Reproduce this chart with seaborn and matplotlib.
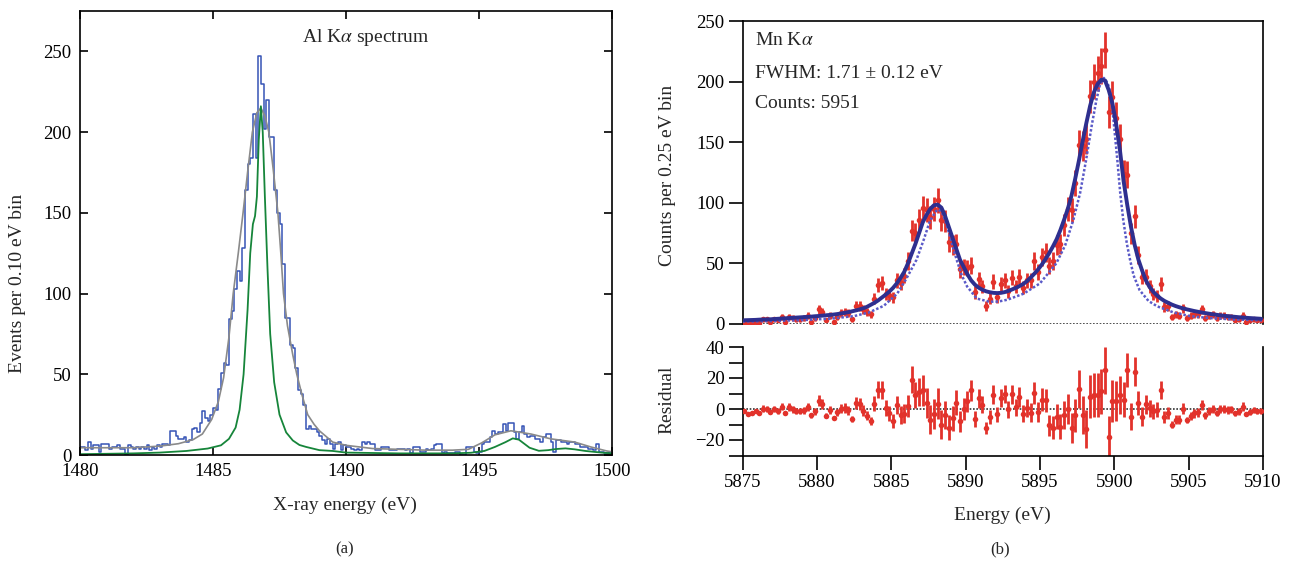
import numpy as np
import pandas as pd
import matplotlib
matplotlib.use("Agg")
import matplotlib.pyplot as plt
import seaborn as sns

# ---------------- (a) Al K-alpha spectrum, 0.10 eV bins ----------------
al_bin_start = 1480.0
al_bin_width = 0.10
al_counts = [
    5, 5, 3, 8, 4, 6, 6, 2, 7, 7, 7, 4, 5, 5, 6, 4, 4, 0, 6, 5,
    4, 5, 4, 5, 4, 6, 3, 5, 4, 6, 5, 7, 7, 6, 15, 15, 12, 10, 10, 11,
    8, 9, 16, 17, 14, 20, 27, 23, 21, 25, 29, 28, 41, 51, 57, 56, 84, 89, 103, 114,
    108, 128, 164, 180, 184, 211, 184, 247, 230, 202, 220, 197, 197, 164, 150, 143, 118, 85, 85, 68,
    66, 54, 40, 38, 31, 16, 18, 16, 16, 14, 12, 9, 7, 10, 7, 4, 7, 8, 3, 6,
    5, 5, 4, 3, 4, 3, 8, 7, 8, 7, 7, 3, 3, 5, 5, 5, 3, 3, 3, 4,
    4, 4, 3, 4, 1, 5, 5, 5, 2, 2, 4, 3, 4, 6, 7, 7, 1, 2, 1, 1,
    1, 2, 2, 0, 0, 5, 5, 5, 2, 1, 2, 7, 8, 8, 11, 15, 13, 14, 14, 19,
    15, 20, 20, 14, 10, 14, 18, 13, 11, 12, 12, 10, 10, 8, 11, 13, 13, 8, 2, 9,
    9, 8, 8, 7, 8, 8, 7, 7, 5, 5, 5, 4, 4, 3, 7, 2, 2, 1, 1, 2,
]

# total fit (grey)
al_fit_energy = [
    1480.0, 1482.0, 1483.0, 1483.7, 1484.25, 1484.6, 1484.95, 1485.2, 1485.4, 1485.6,
    1485.76, 1485.95, 1486.13, 1486.3, 1486.48, 1486.65, 1486.8, 1486.95, 1487.1, 1487.27,
    1487.44, 1487.55, 1487.65, 1487.8, 1488.0, 1488.15, 1488.35, 1488.56, 1488.8, 1489.0,
    1489.5, 1490.0, 1491.0, 1492.0, 1493.0, 1494.0, 1494.6, 1495.1, 1495.6, 1496.2,
    1496.95, 1497.7, 1498.6, 1499.2, 1499.8, 1500.0,
]
al_fit_counts = [
    4.5, 4.5, 5.5, 7.0, 9.5, 13.0, 22.0, 33.0, 48.0, 73.0,
    100.0, 125.0, 150.0, 175.0, 200.0, 212.0, 215.0, 210.0, 200.0, 176.0,
    150.0, 125.0, 100.0, 80.0, 62.0, 50.0, 37.0, 25.0, 19.0, 15.0,
    8.0, 6.0, 4.0, 3.5, 3.0, 3.0, 3.5, 7.5, 12.5, 15.0,
    13.0, 10.0, 8.0, 5.0, 2.5, 2.0,
]

# line-shape component (green)
al_line_energy = [
    1480.0, 1482.0, 1483.0, 1484.0, 1484.8, 1485.3, 1485.6, 1485.85, 1486.0, 1486.15,
    1486.3, 1486.4, 1486.5, 1486.58, 1486.65, 1486.72, 1486.8, 1486.87, 1486.95, 1487.05,
    1487.15, 1487.3, 1487.5, 1487.75, 1488.0, 1488.25, 1488.5, 1489.0, 1489.5, 1490.0,
    1492.0, 1494.0, 1494.7, 1495.2, 1495.6, 1496.0, 1496.27, 1496.5, 1496.9, 1497.25,
    1497.6, 1497.9, 1498.25, 1498.6, 1499.0, 1499.6, 1500.0,
]
al_line_counts = [
    0.5, 1.0, 1.5, 2.5, 4.0, 6.0, 10.0, 17.0, 28.0, 50.0,
    90.0, 125.0, 143.0, 148.0, 160.0, 195.0, 216.0, 200.0, 160.0, 115.0,
    75.0, 45.0, 25.0, 14.0, 9.0, 6.2, 5.0, 3.0, 2.5, 1.5,
    1.0, 1.0, 1.4, 2.5, 5.0, 8.0, 10.3, 9.5, 4.5, 2.6,
    3.0, 3.7, 4.1, 3.5, 2.5, 1.5, 1.0,
]

# ---------------- (b) Mn K-alpha spectrum, 0.25 eV bins ----------------
mn_bin_start = 5875.0
mn_bin_width = 0.25
mn_counts = [
    2, 0, 1, 2, 1, 4, 4, 2, 4, 3, 6, 2, 6, 5, 4, 4, 5, 7, 2, 5,
    12, 10, 3, 7, 2, 6, 9, 10, 9, 4, 15, 15, 12, 10, 8, 21, 32, 34, 25, 24,
    22, 36, 34, 40, 52, 77, 75, 86, 96, 94, 88, 95, 102, 86, 85, 68, 65, 66, 45, 47,
    46, 48, 26, 37, 31, 15, 21, 35, 22, 33, 36, 27, 38, 31, 39, 30, 36, 36, 52, 43,
    55, 59, 48, 52, 65, 66, 82, 95, 94, 116, 148, 147, 153, 188, 200, 207, 213, 226, 175, 187,
    170, 153, 124, 123, 75, 89, 57, 39, 39, 31, 25, 23, 33, 14, 15, 6, 8, 7, 13, 5,
    7, 8, 8, 12, 5, 7, 8, 5, 7, 7, 6, 6, 3, 4, 7, 2, 3, 4, 3, 3,
]
# fitted model evaluated at each bin centre
mn_fit = [
    3.1, 3.2, 3.3, 3.4, 3.6, 3.7, 3.8, 3.9, 4.1, 4.3, 4.5, 4.7, 4.9, 5.1, 5.3, 5.5, 5.7, 5.9, 6.1, 6.4,
    6.6, 6.9, 7.2, 7.5, 7.8, 8.2, 8.7, 9.2, 9.8, 10.5, 11.2, 12.0, 13.0, 14.2, 15.8, 17.5, 19.5, 21.8, 24.2, 26.8,
    29.8, 33.5, 38.0, 43.0, 50.0, 58.0, 66.0, 75.0, 84.0, 90.0, 95.0, 98.0, 98.5, 96.0, 89.0, 80.0, 71.0, 62.0, 53.0, 47.0,
    41.0, 36.0, 32.5, 30.0, 28.3, 27.0, 26.2, 25.7, 25.5, 25.7, 26.3, 27.3, 28.5, 29.8, 31.3, 33.0, 35.3, 38.3, 41.5, 45.0,
    49.0, 53.5, 58.5, 64.0, 70.0, 77.5, 86.0, 95.0, 106.0, 120.0, 135.0, 151.0, 166.0, 180.0, 191.0, 198.0, 201.5, 201.0, 193.0, 182.0,
    165.0, 144.0, 118.0, 98.0, 80.0, 65.0, 53.0, 44.0, 36.0, 30.5, 26.5, 23.5, 21.0, 19.0, 17.5, 16.0, 14.8, 13.8, 12.9, 12.1,
    11.4, 10.7, 10.1, 9.5, 9.0, 8.5, 8.0, 7.6, 7.2, 6.8, 6.5, 6.2, 5.9, 5.6, 5.4, 5.1, 4.9, 4.7, 4.5, 4.3,
]
# intrinsic line shape (dotted)
mn_line_energy = [
    5875.0, 5877.0, 5879.0, 5881.0, 5882.5, 5883.5, 5884.5, 5885.4, 5886.0, 5886.7,
    5887.2, 5887.6, 5888.0, 5888.2, 5888.45, 5888.7, 5889.05, 5889.4, 5889.75, 5890.1,
    5890.75, 5891.6, 5892.2, 5892.8, 5893.9, 5895.0, 5896.1, 5896.7, 5897.25, 5897.7,
    5898.1, 5898.5, 5898.8, 5899.05, 5899.3, 5899.55, 5899.75, 5899.95, 5900.2, 5900.4,
    5900.6, 5900.85, 5901.06, 5901.3, 5901.7, 5902.3, 5902.9, 5904.0, 5905.1, 5906.5,
    5908.0, 5910.0,
]
mn_line_counts = [
    2.0, 2.5, 3.2, 4.5, 6.5, 9.5, 15.0, 25.0, 37.0, 53.0,
    70.0, 85.0, 93.0, 94.5, 91.0, 83.0, 68.0, 53.0, 40.0, 31.0,
    21.0, 18.4, 18.5, 20.0, 25.0, 33.5, 50.0, 65.0, 86.0, 108.0,
    135.0, 165.0, 185.0, 198.0, 203.0, 199.0, 190.0, 168.0, 136.0, 108.0,
    86.0, 66.0, 53.0, 40.0, 28.0, 19.0, 14.5, 9.5, 6.5, 4.8,
    3.8, 3.0,
]

al_xticks = [1480, 1485, 1490, 1495, 1500]
al_yticks = [0, 50, 100, 150, 200, 250]
mn_xticks = [5875, 5880, 5885, 5890, 5895, 5900, 5905, 5910]
mn_yticks = [0, 50, 100, 150, 200, 250]
res_yticks = [-20, 0, 20, 40]

# ---------------- styling ----------------
sns.set_theme(style="ticks")
plt.rcParams["font.family"] = ["Liberation Serif", "DejaVu Serif"]
plt.rcParams["mathtext.fontset"] = "stix"
plt.rcParams["axes.linewidth"] = 1.2
plt.rcParams["axes.edgecolor"] = "black"

W, H = 1292, 564
fig = plt.figure(figsize=(W / 100, H / 100), dpi=100)
fig.patch.set_facecolor("white")


def box(x0, y0, x1, y1):
    """Axes rectangle from pixel corners (top-left origin)."""
    return [x0 / W, 1 - y1 / H, (x1 - x0) / W, (y1 - y0) / H]


def fxy(px, py):
    return px / W, 1 - py / H


TICK_FS = 13.5
LABEL_FS = 14
RED = "#e2322b"
NAVY = "#2e2f8f"

# ---------- panel (a) ----------
ax_a = fig.add_axes(box(80, 11, 612, 455))
n_al = len(al_counts)
al_edges = al_bin_start + al_bin_width * np.arange(n_al + 1)
al_df = pd.DataFrame({
    "energy": al_edges[:-1] + al_bin_width / 2,
    "events": np.asarray(al_counts, dtype=float),
})
sns.histplot(data=al_df, x="energy", weights="events", bins=list(al_edges),
             element="step", fill=False, color="#3553b5", linewidth=1.1, ax=ax_a)
sns.lineplot(x=al_fit_energy, y=al_fit_counts, color="#8a8a8a", linewidth=1.2,
             sort=True, ax=ax_a)
sns.lineplot(x=al_line_energy, y=al_line_counts, color="#16853a", linewidth=1.3,
             sort=True, ax=ax_a)
ax_a.set_xlim(1480, 1500)
ax_a.set_ylim(0, 275)
ax_a.set_xticks(al_xticks)
ax_a.set_yticks(al_yticks)
ax_a.tick_params(direction="in", length=6, width=1.2, labelsize=TICK_FS, pad=6,
                 colors="black", top=True, right=True)
ax_a.set_xlabel("")
ax_a.set_ylabel("")
ax_a.text(0.537, 0.94, r"Al K$\alpha$ spectrum", transform=ax_a.transAxes,
          ha="center", va="center", fontsize=LABEL_FS)
for s in ax_a.spines.values():
    s.set_visible(True)
    s.set_color("black")

# ---------- panel (b) main ----------
ax_b = fig.add_axes(box(742.5, 21, 1263, 324))
n_mn = len(mn_counts)
mn_centres = mn_bin_start + mn_bin_width * (np.arange(n_mn) + 0.5)
mn_counts_arr = np.asarray(mn_counts, dtype=float)
mn_err = np.sqrt(mn_counts_arr)

ax_b.axhline(0, color="#333333", linestyle=(0, (1, 1)), linewidth=1.2, zorder=1)
ax_b.errorbar(mn_centres, mn_counts_arr, yerr=mn_err, fmt="none", ecolor=RED,
              elinewidth=2.0, capsize=0, zorder=2)
sns.scatterplot(x=mn_centres, y=mn_counts_arr, color=RED, s=16, linewidth=0,
                zorder=3, ax=ax_b)
sns.lineplot(x=mn_line_energy, y=mn_line_counts, color="#5a5ac8", linewidth=1.8,
             linestyle=(0, (1, 0.8)), sort=True, zorder=4, ax=ax_b)
sns.lineplot(x=mn_centres, y=mn_fit, color=NAVY, linewidth=2.8, sort=True,
             zorder=5, ax=ax_b)
ax_b.set_xlim(5875, 5910)
ax_b.set_ylim(0, 250)
ax_b.set_xticks(mn_xticks)
ax_b.set_yticks(mn_yticks)
ax_b.tick_params(axis="y", direction="out", length=10, width=1.2,
                 labelsize=TICK_FS, pad=3, colors="black")
ax_b.tick_params(axis="x", length=0, labelbottom=False)
ax_b.spines["bottom"].set_visible(False)
for k in ("top", "left", "right"):
    ax_b.spines[k].set_visible(True)
    ax_b.spines[k].set_color("black")
ax_b.set_xlabel("")
ax_b.set_ylabel("")
ax_b.text(0.024, 0.937, r"Mn K$\alpha$", transform=ax_b.transAxes,
          ha="left", va="center", fontsize=LABEL_FS)
ax_b.text(0.024, 0.828, "FWHM: 1.71 \u00b1 0.12 eV", transform=ax_b.transAxes,
          ha="left", va="center", fontsize=LABEL_FS)
ax_b.text(0.024, 0.729, "Counts: 5951", transform=ax_b.transAxes,
          ha="left", va="center", fontsize=LABEL_FS)

# ---------- panel (b) residuals ----------
ax_r = fig.add_axes(box(742.5, 347, 1263, 455.5))
mn_resid = mn_counts_arr - np.asarray(mn_fit)
ax_r.axhline(0, color="#333333", linestyle=(0, (1, 1)), linewidth=1.2, zorder=1)
ax_r.errorbar(mn_centres, mn_resid, yerr=mn_err, fmt="none", ecolor=RED,
              elinewidth=2.0, capsize=0, zorder=2)
sns.scatterplot(x=mn_centres, y=mn_resid, color=RED, s=16, linewidth=0,
                zorder=3, ax=ax_r)
ax_r.set_xlim(5875, 5910)
ax_r.set_ylim(-30, 40)
ax_r.set_xticks(mn_xticks)
ax_r.set_yticks(res_yticks)
ax_r.set_yticks([-30, -10, 10, 30], minor=True)
ax_r.tick_params(axis="both", which="major", direction="out", length=10,
                 width=1.2, labelsize=TICK_FS, pad=3, colors="black")
ax_r.tick_params(axis="y", which="minor", direction="out", length=10, width=1.2,
                 colors="black", left=True)
ax_r.spines["top"].set_visible(False)
for k in ("bottom", "left", "right"):
    ax_r.spines[k].set_visible(True)
    ax_r.spines[k].set_color("black")
ax_r.set_xlabel("")
ax_r.set_ylabel("")

# ---------- axis titles and panel letters ----------
fig.text(*fxy(18, 283), "Events per 0.10 eV bin", rotation=90, ha="center",
         va="center", fontsize=LABEL_FS)
fig.text(*fxy(345, 505), "X-ray energy (eV)", ha="center", va="center",
         fontsize=LABEL_FS)
fig.text(*fxy(667, 175), "Counts per 0.25 eV bin", rotation=90, ha="center",
         va="center", fontsize=LABEL_FS)
fig.text(*fxy(667, 400), "Residual", rotation=90, ha="center", va="center",
         fontsize=LABEL_FS)
fig.text(*fxy(1002, 515), "Energy (eV)", ha="center", va="center",
         fontsize=LABEL_FS)
fig.text(*fxy(345, 549), "(a)", ha="center", va="center", fontsize=12)
fig.text(*fxy(1000, 549), "(b)", ha="center", va="center", fontsize=12)

fig.savefig("out.png", dpi=100, facecolor="white")
